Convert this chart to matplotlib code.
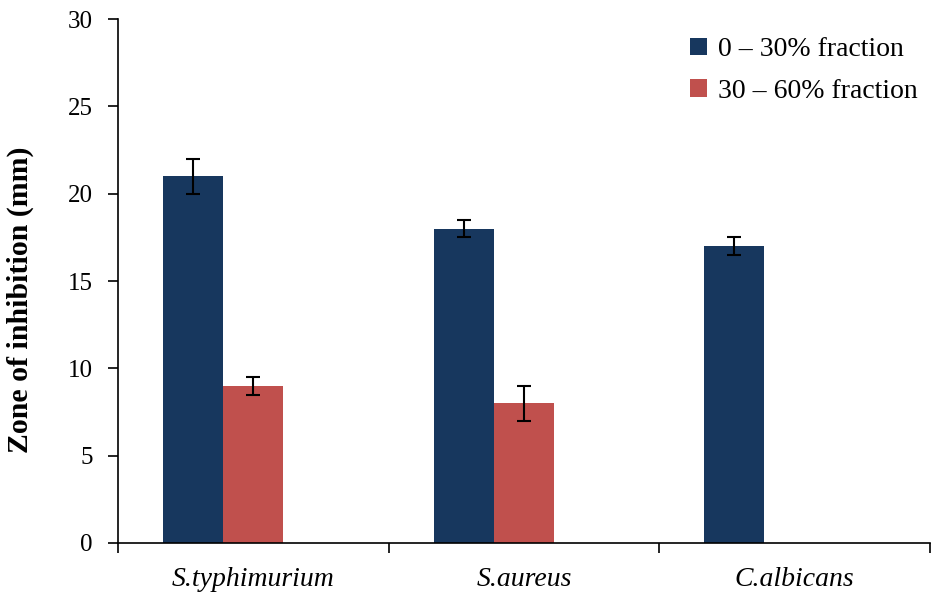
import matplotlib.pyplot as plt
import numpy as np

plt.rcParams['font.family'] = ['Liberation Serif', 'DejaVu Serif']

categories = ['S.typhimurium', 'S.aureus', 'C.albicans']
frac_0_30 = [21, 18, 17]
err_0_30 = [1, 0.5, 0.5]
frac_30_60 = [9, 8, 0]
err_30_60 = [0.5, 1, 0]

navy = '#17375E'
red = '#C0504D'

fig = plt.figure(figsize=(9.31, 5.94), dpi=100)
ax = fig.add_axes([0.1267, 0.0859, 0.872, 0.882])

x = np.arange(len(categories))
w = 0.222
ax.bar(x - w, frac_0_30, w, color=navy, label='0 – 30% fraction')
ax.bar(x, frac_30_60, w, color=red, label='30 – 60% fraction')
ax.errorbar(x - w, frac_0_30, yerr=err_0_30, fmt='none', ecolor='black',
            elinewidth=1.5, capsize=5, capthick=1.5)
ax.errorbar(x[:2], frac_30_60[:2], yerr=err_30_60[:2], fmt='none', ecolor='black',
            elinewidth=1.5, capsize=5, capthick=1.5)

ax.set_xlim(-0.5, 2.5)
ax.set_ylim(0, 30)
ax.set_yticks(range(0, 31, 5))
ax.tick_params(axis='y', direction='out', length=7, width=1.2, labelsize=18, pad=11)

ax.set_xticks([-0.5, 0.5, 1.5, 2.5])
ax.set_xticklabels([])
ax.tick_params(axis='x', which='major', direction='out', length=7, width=1.2)
ax.set_xticks(x, minor=True)
ax.set_xticklabels(categories, minor=True, style='italic', fontsize=20)
ax.tick_params(axis='x', which='minor', length=0, pad=17)

for s in ['top', 'right']:
    ax.spines[s].set_visible(False)
ax.spines['left'].set_linewidth(1.2)
ax.spines['bottom'].set_linewidth(1.2)

ax.set_ylabel('Zone of inhibition (mm)', fontsize=21.5, fontweight='bold')
ax.yaxis.set_label_coords(-0.103, 0.464)

ax.legend(loc='upper left', bbox_to_anchor=(0.674, 1.013), frameon=False, fontsize=20,
          handlelength=0.6, handleheight=0.6, handletextpad=0.4, labelspacing=0.6)

fig.savefig('out.png', dpi=100)
